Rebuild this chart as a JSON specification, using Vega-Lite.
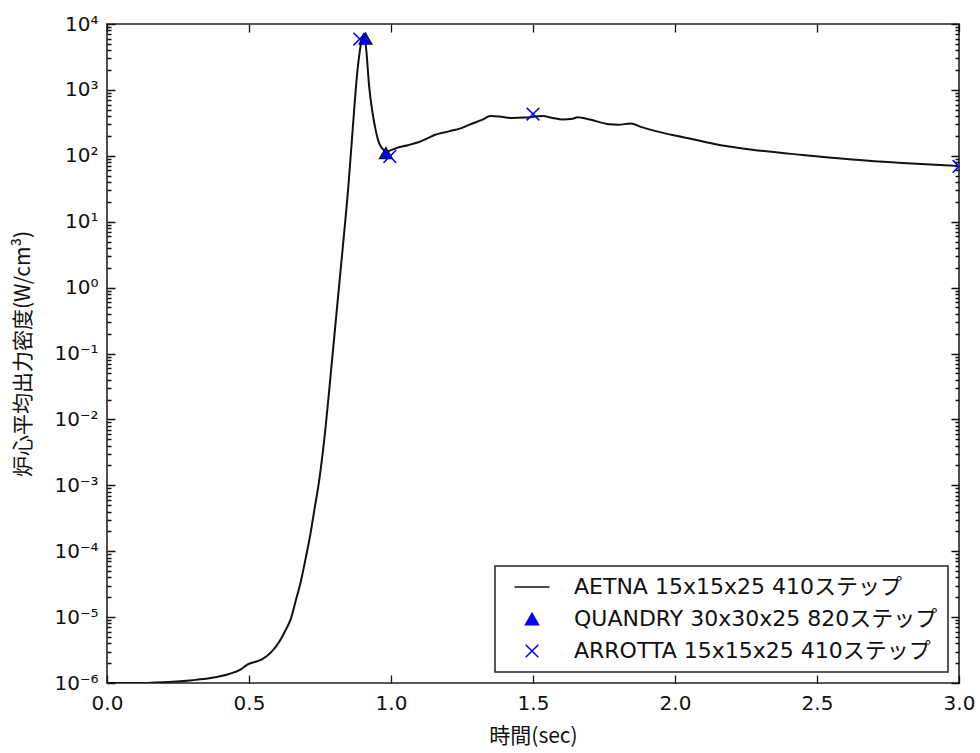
{
  "$schema": "https://vega.github.io/schema/vega-lite/v6.json",
  "width": 852,
  "height": 659,
  "autosize": {"type": "none"},
  "padding": {"left": 107, "top": 24, "right": 21, "bottom": 70},
  "background": "white",
  "config": {
    "view": {"stroke": "#222", "strokeWidth": 1.6},
    "axis": {"domain": false, "ticks": false, "tickSize": 0, "labelColor": "#111", "titleColor": "#111", "gridColor": "#111", "gridWidth": 1.3, "gridOpacity": 1},
    "legend": {"strokeWidth": 1.5}
  },
  "data": {
    "values": [
      {"series": "AETNA", "t": 0.0, "p": 1.0e-6},
      {"series": "AETNA", "t": 0.1, "p": 1.0e-6},
      {"series": "AETNA", "t": 0.2, "p": 1.03e-6},
      {"series": "AETNA", "t": 0.3, "p": 1.1e-6},
      {"series": "AETNA", "t": 0.38, "p": 1.22e-6},
      {"series": "AETNA", "t": 0.43, "p": 1.37e-6},
      {"series": "AETNA", "t": 0.47, "p": 1.6e-6},
      {"series": "AETNA", "t": 0.494, "p": 1.9e-6},
      {"series": "AETNA", "t": 0.547, "p": 2.3e-6},
      {"series": "AETNA", "t": 0.58, "p": 3.0e-6},
      {"series": "AETNA", "t": 0.606, "p": 4.2e-6},
      {"series": "AETNA", "t": 0.63, "p": 6.5e-6},
      {"series": "AETNA", "t": 0.647, "p": 9.3e-6},
      {"series": "AETNA", "t": 0.665, "p": 1.8e-5},
      {"series": "AETNA", "t": 0.682, "p": 3.4e-5},
      {"series": "AETNA", "t": 0.70, "p": 8.0e-5},
      {"series": "AETNA", "t": 0.717, "p": 1.9e-4},
      {"series": "AETNA", "t": 0.73, "p": 4.2e-4},
      {"series": "AETNA", "t": 0.746, "p": 1.1e-3},
      {"series": "AETNA", "t": 0.76, "p": 3.2e-3},
      {"series": "AETNA", "t": 0.77, "p": 7.8e-3},
      {"series": "AETNA", "t": 0.788, "p": 0.05},
      {"series": "AETNA", "t": 0.81, "p": 0.5},
      {"series": "AETNA", "t": 0.83, "p": 4.0},
      {"series": "AETNA", "t": 0.85, "p": 35},
      {"series": "AETNA", "t": 0.865, "p": 250},
      {"series": "AETNA", "t": 0.881, "p": 1800},
      {"series": "AETNA", "t": 0.895, "p": 5200},
      {"series": "AETNA", "t": 0.905, "p": 7200},
      {"series": "AETNA", "t": 0.913, "p": 4000},
      {"series": "AETNA", "t": 0.923, "p": 1130},
      {"series": "AETNA", "t": 0.935, "p": 450},
      {"series": "AETNA", "t": 0.946, "p": 245},
      {"series": "AETNA", "t": 0.955, "p": 170},
      {"series": "AETNA", "t": 0.964, "p": 138},
      {"series": "AETNA", "t": 0.975, "p": 122},
      {"series": "AETNA", "t": 0.987, "p": 117},
      {"series": "AETNA", "t": 1.0, "p": 122},
      {"series": "AETNA", "t": 1.028, "p": 135},
      {"series": "AETNA", "t": 1.06, "p": 145},
      {"series": "AETNA", "t": 1.099, "p": 162},
      {"series": "AETNA", "t": 1.13, "p": 185},
      {"series": "AETNA", "t": 1.151, "p": 205},
      {"series": "AETNA", "t": 1.204, "p": 235},
      {"series": "AETNA", "t": 1.25, "p": 265},
      {"series": "AETNA", "t": 1.275, "p": 295},
      {"series": "AETNA", "t": 1.32, "p": 350},
      {"series": "AETNA", "t": 1.35, "p": 400},
      {"series": "AETNA", "t": 1.38, "p": 395},
      {"series": "AETNA", "t": 1.427, "p": 375},
      {"series": "AETNA", "t": 1.47, "p": 380},
      {"series": "AETNA", "t": 1.533, "p": 400},
      {"series": "AETNA", "t": 1.57, "p": 375},
      {"series": "AETNA", "t": 1.603, "p": 355},
      {"series": "AETNA", "t": 1.64, "p": 365},
      {"series": "AETNA", "t": 1.656, "p": 385},
      {"series": "AETNA", "t": 1.70, "p": 355},
      {"series": "AETNA", "t": 1.768, "p": 300},
      {"series": "AETNA", "t": 1.80, "p": 295},
      {"series": "AETNA", "t": 1.844, "p": 310},
      {"series": "AETNA", "t": 1.88, "p": 275},
      {"series": "AETNA", "t": 1.932, "p": 237},
      {"series": "AETNA", "t": 2.026, "p": 193},
      {"series": "AETNA", "t": 2.143, "p": 150},
      {"series": "AETNA", "t": 2.272, "p": 124},
      {"series": "AETNA", "t": 2.448, "p": 103},
      {"series": "AETNA", "t": 2.624, "p": 88},
      {"series": "AETNA", "t": 2.8, "p": 78},
      {"series": "AETNA", "t": 3.0, "p": 70},
      {"series": "QUANDRY", "t": 0.91, "p": 6000},
      {"series": "QUANDRY", "t": 0.982, "p": 110},
      {"series": "ARROTTA", "t": 0.89, "p": 5900},
      {"series": "ARROTTA", "t": 0.996, "p": 98},
      {"series": "ARROTTA", "t": 1.5, "p": 430},
      {"series": "ARROTTA", "t": 3.0, "p": 69}
    ]
  },
  "resolve": {"axis": {"x": "independent", "y": "independent"}, "scale": {"x": "shared", "y": "shared"}},
  "layer": [
    {
      "transform": [{"filter": "datum.series === 'AETNA'"}],
      "mark": {"type": "line", "strokeWidth": 2, "interpolate": "monotone", "clip": true},
      "encoding": {
        "x": {
          "field": "t", "type": "quantitative",
          "scale": {"domain": [0, 3], "nice": false, "zero": false},
          "axis": {
            "orient": "bottom",
            "values": [0, 0.5, 1, 1.5, 2, 2.5, 3],
            "format": ".1f",
            "grid": true,
            "gridDash": [8, 643],
            "labelFont": "DejaVu Sans", "labelFontSize": 20, "labelPadding": 10,
            "labelFlush": false,
            "title": "時間(sec)", "titleFont": "Noto Sans CJK JP", "titleFontSize": 21, "titleFontWeight": "normal", "titlePadding": 12
          }
        },
        "y": {
          "field": "p", "type": "quantitative",
          "scale": {"type": "log", "domain": [1e-6, 1e4], "nice": false},
          "axis": {
            "orient": "left",
            "values": [1e-6, 1e-5, 1e-4, 1e-3, 1e-2, 0.1, 1, 10, 100, 1000, 10000],
            "labelExpr": "'10' + (round(log(datum.value)/LN10) < 0 ? '⁻' : '') + ['⁰','¹','²','³','⁴','⁵','⁶','⁷','⁸','⁹'][abs(round(log(datum.value)/LN10))]",
            "labelOverlap": false,
            "labelFlush": false,
            "grid": true,
            "gridDash": [8, 836],
            "labelFont": "DejaVu Sans", "labelFontSize": 20, "labelPadding": 9,
            "title": "炉心平均出力密度(W/cm³)", "titleFont": "Noto Sans CJK JP", "titleFontSize": 21, "titleFontWeight": "normal", "titlePadding": 20
          }
        },
        "color": {
          "field": "series", "type": "nominal",
          "scale": {"domain": ["AETNA", "QUANDRY", "ARROTTA"], "range": ["#111111", "#0000ff", "#0000ff"]},
          "legend": {
            "title": null,
            "orient": "bottom-right",
            "offset": 11,
            "padding": 10,
            "fillColor": "white",
            "strokeColor": "#222",
            "cornerRadius": 0,
            "symbolSize": 900,
            "symbolStrokeWidth": 1.5,
            "symbolOffset": 16,
            "rowPadding": 10,
            "labelOffset": 31,
            "labelFont": "DejaVu Sans, Noto Sans CJK JP",
            "labelFontSize": 22,
            "labelColor": "#111",
            "labelLimit": 600,
            "zindex": 2,
            "labelExpr": "datum.value === 'AETNA' ? 'AETNA 15x15x25 410ステップ' : datum.value === 'QUANDRY' ? 'QUANDRY 30x30x25 820ステップ' : 'ARROTTA 15x15x25 410ステップ'",
            "encode": {
              "symbols": {
                "update": {
                  "shape": {"signal": "datum.value === 'AETNA' ? 'M-1,0L1,0' : datum.value === 'QUANDRY' ? 'triangle-up' : 'M-1,-1L1,1M-1,1L1,-1'"},
                  "size": {"signal": "datum.value === 'AETNA' ? 1225 : datum.value === 'QUANDRY' ? 170 : 160"},
                  "fill": {"signal": "datum.value === 'QUANDRY' ? '#0000ff' : 'transparent'"},
                  "stroke": {"signal": "datum.value === 'ARROTTA' ? '#0000ff' : '#111111'"},
                  "opacity": {"value": 1}
                }
              }
            }
          }
        }
      }
    },
    {
      "transform": [{"filter": "datum.series === 'QUANDRY'"}],
      "mark": {"type": "point", "shape": "triangle-up", "filled": true, "fill": "#0000ff", "stroke": "#111111", "strokeWidth": 1.2, "size": 170, "opacity": 1},
      "encoding": {
        "x": {"field": "t", "type": "quantitative", "axis": null},
        "y": {"field": "p", "type": "quantitative", "axis": null}
      }
    },
    {
      "transform": [{"filter": "datum.series === 'ARROTTA'"}],
      "mark": {"type": "point", "shape": "M-1,-1L1,1M-1,1L1,-1", "filled": false, "stroke": "#0000ff", "strokeWidth": 1.6, "size": 160, "opacity": 1, "clip": true},
      "encoding": {
        "x": {"field": "t", "type": "quantitative", "axis": null},
        "y": {
          "field": "p", "type": "quantitative",
          "axis": {
            "orient": "right",
            "values": [2e-6,3e-6,4e-6,5e-6,6e-6,7e-6,8e-6,9e-6,2e-5,3e-5,4e-5,5e-5,6e-5,7e-5,8e-5,9e-5,2e-4,3e-4,4e-4,5e-4,6e-4,7e-4,8e-4,9e-4,2e-3,3e-3,4e-3,5e-3,6e-3,7e-3,8e-3,9e-3,2e-2,3e-2,4e-2,5e-2,6e-2,7e-2,8e-2,9e-2,0.2,0.3,0.4,0.5,0.6,0.7,0.8,0.9,2,3,4,5,6,7,8,9,20,30,40,50,60,70,80,90,200,300,400,500,600,700,800,900,2000,3000,4000,5000,6000,7000,8000,9000],
            "labels": false,
            "grid": true,
            "gridDash": [4, 844],
            "title": null
          }
        }
      }
    }
  ]
}
